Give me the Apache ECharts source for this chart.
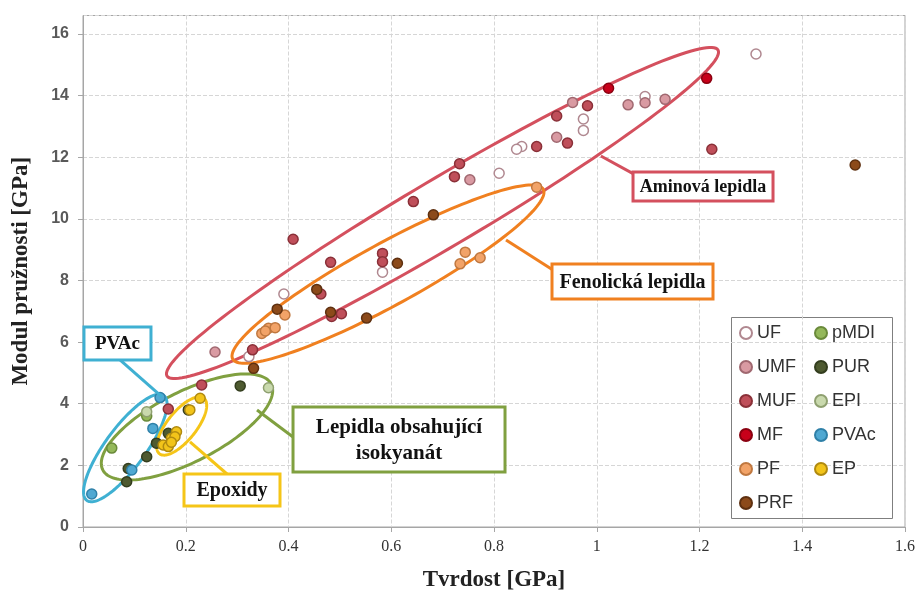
<!DOCTYPE html>
<html><head><meta charset="utf-8">
<script src="https://cdn.jsdelivr.net/npm/echarts@6/dist/echarts.min.js"></script>
<style>html,body{margin:0;padding:0;background:#fff}#c{width:922px;height:593px}</style>
</head><body><div id="c"></div>
<script>
// ---------- data ----------
const seriesNames = ['UF','UMF','MUF','MF','PF','PRF','pMDI','PUR','EPI','PVAc','EP'];
const UF   = [[1.31,15.35],[1.094,13.97],[0.974,13.24],[0.974,12.87],[0.854,12.35],[0.844,12.26],[0.81,11.48],[0.583,8.27],[0.391,7.56],[0.323,5.53]];
const UMF  = [[1.061,13.7],[1.094,13.77],[1.133,13.88],[0.953,13.78],[0.922,12.65],[0.753,11.27],[0.257,5.68]];
const MUF  = [[0.982,13.67],[0.922,13.34],[0.943,12.46],[0.883,12.35],[1.224,12.26],[0.733,11.79],[0.723,11.37],[0.643,10.56],[0.409,9.34],[0.482,8.59],[0.583,8.88],[0.583,8.61],[0.463,7.56],[0.484,6.83],[0.503,6.92],[0.33,5.75],[0.231,4.61],[0.166,3.83]];
const MF   = [[1.023,14.24],[1.214,14.56]];
const PF   = [[0.883,11.03],[0.744,8.92],[0.734,8.54],[0.773,8.74],[0.393,6.88],[0.348,6.28],[0.361,6.45],[0.374,6.47],[0.355,6.36]];
const PRF  = [[1.503,11.75],[0.682,10.13],[0.612,8.56],[0.455,7.71],[0.378,7.07],[0.482,6.97],[0.552,6.78],[0.332,5.15]];
const pMDI = [[0.056,2.56],[0.124,3.6]];
const PUR  = [[0.306,4.58],[0.205,3.80],[0.166,3.04],[0.143,2.72],[0.124,2.28],[0.088,1.90],[0.085,1.47]];
const EPI  = [[0.361,4.52],[0.124,3.74]];
const PVAc = [[0.15,4.2],[0.136,3.2],[0.095,1.85],[0.017,1.07]];
const EP   = [[0.228,4.18],[0.208,3.80],[0.182,3.09],[0.172,2.88],[0.179,2.93],[0.156,2.66],[0.166,2.61],[0.172,2.75]];
const xTickLabels = ['0','0.2','0.4','0.6','0.8','1','1.2','1.4','1.6'];
const yTickLabels = ['0','2','4','6','8','10','12','14','16'];
const groupLabels = ['Aminová lepidla','Fenolická lepidla','Lepidla obsahující\nisokyanát','Epoxidy','PVAc'];

// ---------- styles / annotation geometry ----------
const seriesData = {UF, UMF, MUF, MF, PF, PRF, pMDI, PUR, EPI, PVAc, EP};
const styles = {
  UF:{fill:'#ffffff',border:'#b08890'}, UMF:{fill:'#d99aa2',border:'#a06870'},
  MUF:{fill:'#bf4f5a',border:'#8a3038'}, MF:{fill:'#c8001a',border:'#8a0010'},
  PF:{fill:'#f2a368',border:'#c07840'}, PRF:{fill:'#8c4a1a',border:'#5e3010'},
  pMDI:{fill:'#94b85a',border:'#6a8a3a'}, PUR:{fill:'#4e5a30',border:'#333d1e'},
  EPI:{fill:'#c9d9ad',border:'#8fa070'}, PVAc:{fill:'#4fa8d2',border:'#2f80a8'},
  EP:{fill:'#f2c41a',border:'#b08a10'}
};
const ellipses = [
  {tip1:[0.1635,4.90], tip2:[1.236,15.48], b:34, color:'#d4505e'},
  {tip1:[0.2914,5.45], tip2:[0.8959,10.96], b:31, color:'#f08020'},
  {tip1:[0.0385,1.853], tip2:[0.3663,4.638], b:35, color:'#80a040'},
  {tip1:[0.0074,0.863], tip2:[0.1573,4.265], b:20, color:'#3fb0d2'},
  {tip1:[0.1487,2.379], tip2:[0.2355,4.177], b:14.5, color:'#f5c518'}
];
const callouts = [
  {label:0, color:'#d4505e', from:[1.008,12.04], to:[1.076,11.42], box:[1.0706,11.52], w:140, h:29, fs:18, lh:24},
  {label:1, color:'#f08020', from:[0.8234,9.315], to:[0.9148,8.341], box:[0.9129,8.536], w:161, h:35, fs:20, lh:24},
  {label:2, color:'#80a040', from:[0.3387,3.797], to:[0.4088,2.921], box:[0.4088,3.895], w:212, h:65, fs:21, lh:26},
  {label:3, color:'#f5c518', from:[0.2083,2.759], to:[0.2803,1.72], box:[0.1966,1.72], w:96, h:32, fs:20, lh:24},
  {label:4, color:'#3fb0d2', from:[0.1538,4.22], to:[0.072,5.42], box:[0.0019,6.49], w:67, h:33, fs:19, lh:24}
];

function ellipseItem(params, api){
  const e = ellipses[params.dataIndex];
  const p1 = api.coord(e.tip1), p2 = api.coord(e.tip2);
  const cx=(p1[0]+p2[0])/2, cy=(p1[1]+p2[1])/2;
  const dx=(p2[0]-p1[0])/2, dy=(p2[1]-p1[1])/2;
  const a=Math.hypot(dx,dy), ux=dx/a, uy=dy/a, vx=-uy, vy=ux;
  const pts=[];
  for(let k=0;k<=160;k++){
    const t=k/160*2*Math.PI;
    pts.push([cx+a*Math.cos(t)*ux+e.b*Math.sin(t)*vx, cy+a*Math.cos(t)*uy+e.b*Math.sin(t)*vy]);
  }
  return {type:'polygon', shape:{points:pts}, silent:true,
    style:{fill:'none', stroke:e.color, lineWidth:3}};
}
function calloutItem(params, api){
  const c = callouts[params.dataIndex];
  const f = api.coord(c.from), t = api.coord(c.to), b = api.coord(c.box);
  return {type:'group', silent:true, children:[
    {type:'line', shape:{x1:f[0],y1:f[1],x2:t[0],y2:t[1]}, style:{stroke:c.color, lineWidth:3}},
    {type:'rect', shape:{x:b[0], y:b[1], width:c.w, height:c.h}, style:{fill:'#fff', stroke:c.color, lineWidth:3}},
    {type:'text', x:b[0]+c.w/2, y:b[1]+c.h/2+1, style:{text:groupLabels[c.label], fill:'#111',
      font:'bold '+c.fs+'px "Liberation Serif"', align:'center', verticalAlign:'middle',
      textAlign:'center', textVerticalAlign:'middle', lineHeight:c.lh}}
  ]};
}

const chart = echarts.init(document.getElementById('c'), null, {renderer:'canvas'});
const scatterSeries = seriesNames.map(n => ({
  name:n, type:'scatter', data:seriesData[n], symbol:'circle', symbolSize:10, z:3,
  itemStyle:{color:styles[n].fill, borderColor:styles[n].border, borderWidth:1.5, opacity:1}
}));
const legendCommon = {orient:'vertical', itemGap:16, itemWidth:12, itemHeight:12, icon:'circle', padding:0,
  textStyle:{fontSize:18, lineHeight:18, color:'#333', fontFamily:'Liberation Sans'}};

chart.setOption({
  animation:false,
  backgroundColor:'#fff',
  grid:{left:83, right:17, top:15.5, bottom:66, show:true, borderColor:'#a6a6a6', borderWidth:1,
    containLabel:false, outerBoundsMode:'none'},
  xAxis:{type:'value', min:0, max:1.6, interval:0.2,
    name:'Tvrdost [GPa]', nameLocation:'middle', nameGap:42,
    nameTextStyle:{fontFamily:'Liberation Serif', fontWeight:'bold', fontSize:23, color:'#222'},
    axisLine:{show:true, lineStyle:{color:'#a6a6a6'}},
    axisTick:{show:true, length:5, lineStyle:{color:'#a6a6a6'}},
    axisLabel:{margin:12, fontFamily:'Liberation Serif', fontSize:16, color:'#333',
      formatter:v=>{const s=String(+v.toFixed(4)); return xTickLabels.includes(s)?s:'';}},
    splitLine:{show:true, lineStyle:{color:'#d6d6d6', type:'dashed'}}},
  yAxis:{type:'value', min:0, max:16.6, interval:2,
    name:'Modul pružnosti [GPa]', nameLocation:'middle', nameGap:50,
    nameTextStyle:{fontFamily:'Liberation Serif', fontWeight:'bold', fontSize:23, color:'#222'},
    axisLine:{show:true, lineStyle:{color:'#a6a6a6'}},
    axisTick:{show:true, length:5, lineStyle:{color:'#a6a6a6'}},
    axisLabel:{margin:14, fontFamily:'Liberation Sans', fontWeight:'bold', fontSize:16, color:'#595959',
      showMaxLabel:false,
      formatter:v=>{const s=String(+v.toFixed(4)); return yTickLabels.includes(s)?s:'';}},
    splitLine:{show:true, lineStyle:{color:'#d6d6d6', type:'dashed'}}},
  legend:[
    Object.assign({data:seriesNames.slice(0,6), left:739, top:324}, legendCommon),
    Object.assign({data:seriesNames.slice(6), left:814, top:324}, legendCommon)
  ],
  graphic:[{type:'rect', left:731, top:317, shape:{width:161, height:201}, z:-1,
    style:{fill:'#fff', stroke:'#7f7f7f', lineWidth:1}}],
  series:[
    {type:'custom', name:'ellipses', renderItem:ellipseItem, z:2, silent:true,
      data:ellipses.map(e=>[e.tip1[0], e.tip1[1]])},
    ...scatterSeries,
    {type:'custom', name:'callouts', renderItem:calloutItem, z:5, silent:true,
      data:callouts.map(c=>[c.box[0], c.box[1]])}
  ]
});
</script></body></html>
